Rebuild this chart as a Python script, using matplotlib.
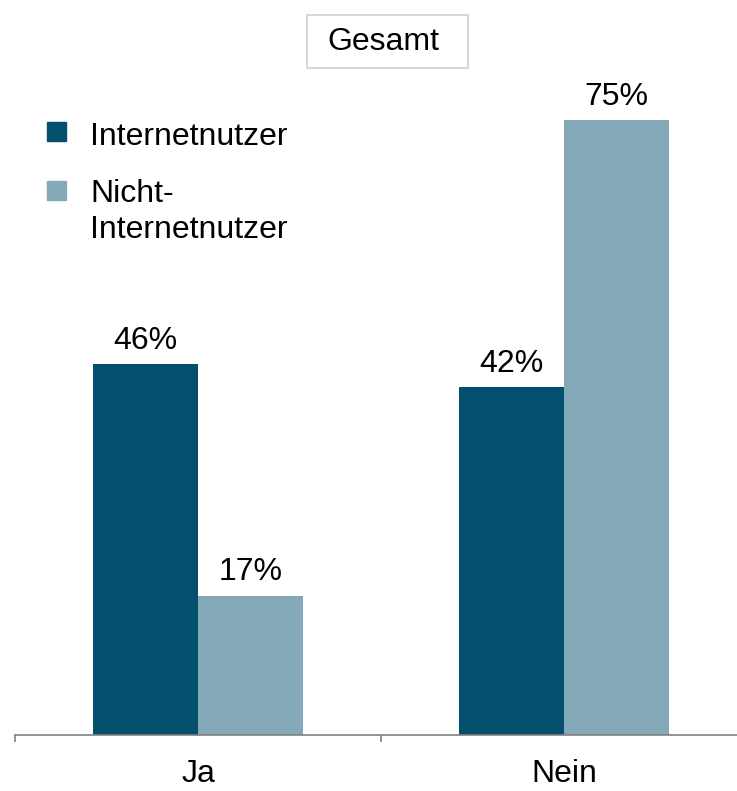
import numpy as np
import matplotlib.pyplot as plt
from matplotlib.patches import Rectangle

plt.rcParams['font.family'] = ['Liberation Sans', 'DejaVu Sans']

categories = ['Ja', 'Nein']
internet = [45.2, 42.4]
nicht_internet = [17, 75]
internet_labels = ['46%', '42%']
nicht_labels = ['17%', '75%']
series_names = ['Internetnutzer', 'Nicht-\nInternetnutzer']
dark = '#02506E'
light = '#84A9B8'

fig = plt.figure(figsize=(7.37, 7.91), dpi=100)
# axes: left edge at 15px, 366px per category, baseline at 735px
W, H = 737, 791
ax = fig.add_axes([15 / W, (H - 735) / H, 732 / W, 735 / H])

x = np.arange(len(categories))
w = 0.287
b1 = ax.bar(x - w / 2, internet, w, color=dark)
b2 = ax.bar(x + w / 2, nicht_internet, w, color=light)

for bars, vals, labs in [(b1, internet, internet_labels), (b2, nicht_internet, nicht_labels)]:
    for bar, v, lab in zip(bars, vals, labs):
        ax.text(bar.get_x() + bar.get_width() / 2, v + 1.0, lab,
                ha='center', va='bottom', fontsize=23)

ax.set_xlim(-0.5, 1.5)
ax.set_ylim(0, 89.6)
ax.set_yticks([])
for s in ['top', 'right', 'left']:
    ax.spines[s].set_visible(False)
ax.spines['bottom'].set_color('#808080')
ax.spines['bottom'].set_linewidth(1.2)

ax.set_xticks(x)
ax.set_xticklabels(categories, fontsize=23)
ax.tick_params(axis='x', which='major', length=0, pad=17)
ax.set_xticks([-0.5, 0.5], minor=True)
ax.tick_params(axis='x', which='minor', length=5, color='#808080', width=1.2)

# legend drawn by hand
for ysq, ytxt, col, name in [(122, 145, dark, series_names[0]),
                             (181, 202, light, series_names[1])]:
    fig.patches.append(Rectangle((47 / W, 1 - (ysq + 19) / H), 19 / W, 19 / H,
                                 transform=fig.transFigure, color=col))
    for i, line in enumerate(name.split('\n')):
        fig.text(90 / W, 1 - (ytxt + 36 * i) / H, line, fontsize=23,
                 va='baseline')

# title box
fig.patches.append(Rectangle((307 / W, 1 - 68 / H), 161 / W, 53 / H,
                             transform=fig.transFigure, facecolor='white',
                             edgecolor='#D0D0D0', linewidth=1.2))
fig.text(383 / W, 1 - 50 / H, 'Gesamt', fontsize=23, ha='center', va='baseline')

fig.savefig('out.png', dpi=100)
